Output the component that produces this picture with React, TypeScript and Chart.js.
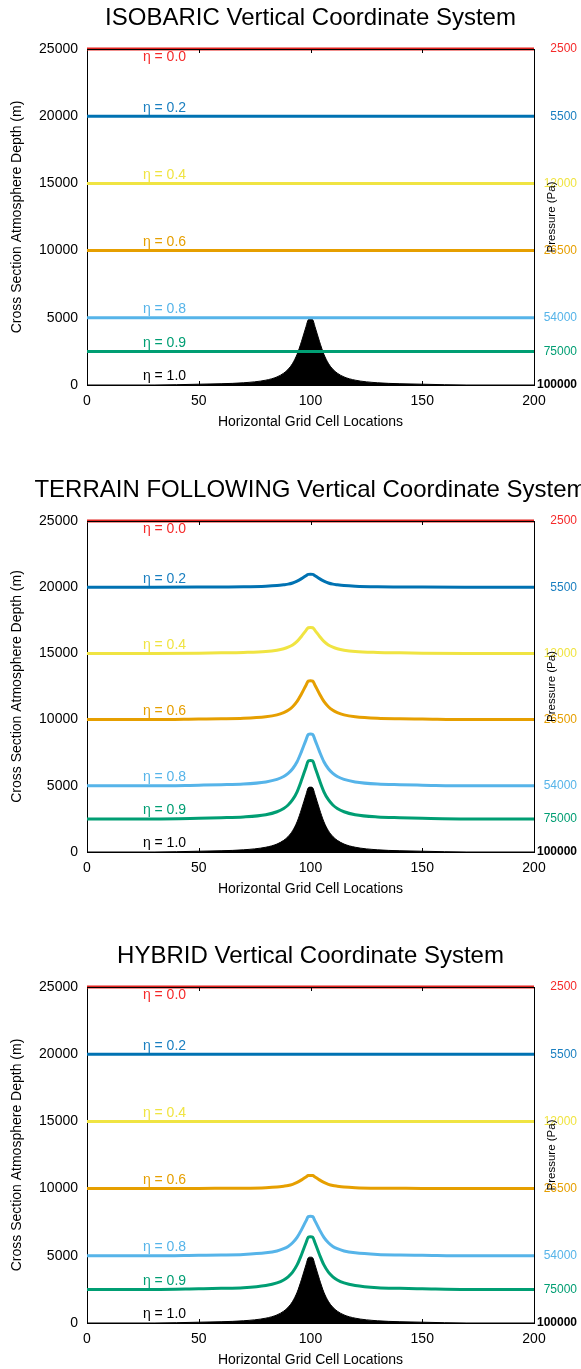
import React, { useEffect, useRef } from 'react';
import { Chart, registerables } from 'chart.js';

Chart.register(...registerables);

const FONT = "'Liberation Sans', Arial, Helvetica, sans-serif";
Chart.defaults.font.family = FONT;

// Horizontal grid cell positions used for the curved series
const X_CELLS = [0, 30, 50, 60, 70, 80, 85, 88, 90, 92, 94, 96, 98, 99, 100, 101, 102, 104, 106, 108, 110, 112, 115, 120, 130, 140, 150, 170, 200];
const FLAT_X = [0, 200];

// Terrain height (m), eta = 1.0 surface
const TERRAIN = [0, 0, 60, 95, 165, 360, 600, 880, 1170, 1610, 2280, 3250, 4340, 4850, 4900, 4850, 4340, 3250, 2280, 1610, 1170, 880, 600, 360, 165, 95, 60, 0, 0];

// Terrain-following levels
const TF_ETA_02 = [20000, 20000, 20010, 20020, 20030, 20070, 20120, 20180, 20230, 20320, 20460, 20650, 20870, 20970, 20980, 20970, 20870, 20650, 20460, 20320, 20230, 20180, 20120, 20070, 20030, 20020, 20010, 20000, 20000];
const TF_ETA_04 = [15000, 15000, 15020, 15040, 15070, 15140, 15240, 15350, 15470, 15640, 15910, 16300, 16740, 16940, 16960, 16940, 16740, 16300, 15910, 15640, 15470, 15350, 15240, 15140, 15070, 15040, 15020, 15000, 15000];
const TF_ETA_06 = [10000, 10000, 10040, 10060, 10100, 10220, 10360, 10530, 10700, 10970, 11370, 11950, 12600, 12910, 12940, 12910, 12600, 11950, 11370, 10970, 10700, 10530, 10360, 10220, 10100, 10060, 10040, 10000, 10000];
const TF_ETA_08 = [5000, 5000, 5050, 5080, 5130, 5290, 5480, 5700, 5940, 6290, 6820, 7600, 8470, 8880, 8920, 8880, 8470, 7600, 6820, 6290, 5940, 5700, 5480, 5290, 5130, 5080, 5050, 5000, 5000];
const TF_ETA_09 = [2500, 2500, 2550, 2590, 2650, 2820, 3040, 3290, 3550, 3950, 4550, 5430, 6410, 6870, 6910, 6870, 6410, 5430, 4550, 3950, 3550, 3290, 3040, 2820, 2650, 2590, 2550, 2500, 2500];

// Hybrid levels
const HY_ETA_06 = [10000, 10000, 10010, 10020, 10030, 10070, 10120, 10180, 10230, 10320, 10460, 10650, 10870, 10970, 10980, 10970, 10870, 10650, 10460, 10320, 10230, 10180, 10120, 10070, 10030, 10020, 10010, 10000, 10000];
const HY_ETA_08 = [5000, 5000, 5040, 5060, 5100, 5220, 5360, 5530, 5700, 5970, 6370, 6950, 7600, 7910, 7940, 7910, 7600, 6950, 6370, 5970, 5700, 5530, 5360, 5220, 5100, 5060, 5040, 5000, 5000];
const HY_ETA_09 = [2500, 2500, 2550, 2580, 2630, 2790, 2980, 3200, 3440, 3790, 4320, 5100, 5970, 6380, 6420, 6380, 5970, 5100, 4320, 3790, 3440, 3200, 2980, 2790, 2630, 2580, 2550, 2500, 2500];

// Level metadata (eta = 0.0, 0.2, 0.4, 0.6, 0.8, 0.9, 1.0)
const ETA_LABELS = ['η = 0.0', 'η = 0.2', 'η = 0.4', 'η = 0.6', 'η = 0.8', 'η = 0.9', 'η = 1.0'];
const LEVEL_HEIGHTS = [25000, 20000, 15000, 10000, 5000, 2500, 0];
const PRESSURE_LABELS = ['2500', '5500', '12000', '26500', '54000', '75000', '100000'];
const LINE_COLORS = ['#e2231f', '#0072b2', '#f0e442', '#e69f00', '#56b4e9', '#009e73', '#000000'];
const LABEL_COLORS = ['#f52a2a', '#1a7fc0', '#f0e442', '#e69f00', '#56b4e9', '#009e73', '#000000'];

const X_TICK_MARKS = [50, 100, 150];
const PANEL_TITLES = ['ISOBARIC Vertical Coordinate System', 'TERRAIN FOLLOWING Vertical Coordinate System', 'HYBRID Vertical Coordinate System'];

const flat = (v: number) => FLAT_X.map((x) => ({ x, y: v }));
const curve = (arr: number[]) => X_CELLS.map((x, i) => ({ x, y: arr[i] }));

const PANEL_SERIES: any[][] = [
  [flat(25000), flat(20000), flat(15000), flat(10000), flat(5000), flat(2500)],
  [flat(25000), curve(TF_ETA_02), curve(TF_ETA_04), curve(TF_ETA_06), curve(TF_ETA_08), curve(TF_ETA_09)],
  [flat(25000), flat(20000), flat(15000), curve(HY_ETA_06), curve(HY_ETA_08), curve(HY_ETA_09)],
];

const PLOT_TOP = 49;
const X_AXIS_H = 48;
const PANEL_LAYOUT = [
  { top: 0, plotH: 336 },
  { top: 472, plotH: 331 },
  { top: 938, plotH: 336 },
];

function makeDecorPlugin(title: string) {
  return {
    id: 'decor',
    afterDatasetsDraw(chart: any) {
      const { ctx, chartArea, scales } = chart;
      const xs = scales.x;
      const ys = scales.y;
      ctx.save();
      // frame top line
      ctx.strokeStyle = '#000';
      ctx.lineWidth = 1;
      ctx.beginPath();
      ctx.moveTo(chartArea.left, chartArea.top + 0.5);
      ctx.lineTo(chartArea.right, chartArea.top + 0.5);
      ctx.stroke();
      // inward tick marks on top and bottom
      X_TICK_MARKS.forEach((v) => {
        const px = Math.round(xs.getPixelForValue(v)) + 0.5;
        ctx.beginPath();
        ctx.moveTo(px, chartArea.top);
        ctx.lineTo(px, chartArea.top + 4);
        ctx.moveTo(px, chartArea.bottom);
        ctx.lineTo(px, chartArea.bottom - 4);
        ctx.stroke();
      });
      // eta labels
      ctx.font = `14px ${FONT}`;
      ctx.textAlign = 'left';
      ctx.textBaseline = 'middle';
      ETA_LABELS.forEach((lab, i) => {
        const px = xs.getPixelForValue(25);
        const py = ys.getPixelForValue(LEVEL_HEIGHTS[i]) + (i === 0 ? 8.5 : -8.5);
        ctx.fillStyle = LABEL_COLORS[i];
        ctx.fillText(lab, px, py);
      });
      ctx.restore();
    },
    afterDraw(chart: any) {
      const { ctx, chartArea } = chart;
      ctx.save();
      // panel title
      ctx.font = `24px ${FONT}`;
      ctx.fillStyle = '#000';
      ctx.textAlign = 'center';
      ctx.textBaseline = 'middle';
      ctx.fillText(title, (chartArea.left + chartArea.right) / 2, 18.5);
      // right axis title
      ctx.font = `11.5px ${FONT}`;
      ctx.translate(551.5, (chartArea.top + chartArea.bottom) / 2);
      ctx.rotate(-Math.PI / 2);
      ctx.fillText('Pressure (Pa)', 0, 0);
      ctx.restore();
    },
  };
}

function Panel({ index }: { index: number }) {
  const ref = useRef<HTMLCanvasElement | null>(null);
  const { top, plotH } = PANEL_LAYOUT[index];
  const height = PLOT_TOP + plotH + X_AXIS_H;

  useEffect(() => {
    if (!ref.current) return;
    const series = PANEL_SERIES[index];
    const datasets: any[] = series.map((data, i) => ({
      data,
      borderColor: LINE_COLORS[i],
      borderWidth: 3,
      pointRadius: 0,
      fill: false,
      clip: false,
      cubicInterpolationMode: 'monotone',
      borderJoinStyle: 'round',
    }));
    datasets.push({
      data: curve(TERRAIN),
      borderColor: '#000',
      backgroundColor: '#000',
      borderWidth: 1,
      pointRadius: 0,
      fill: 'origin',
      cubicInterpolationMode: 'monotone',
    });

    const chart = new Chart(ref.current, {
      type: 'line',
      data: { datasets },
      options: {
        animation: false,
        responsive: false,
        devicePixelRatio: 1,
        layout: { padding: { top: PLOT_TOP, left: 0, right: 4, bottom: 0 } },
        plugins: {
          legend: { display: false },
          tooltip: { enabled: false },
          title: { display: false },
        },
        scales: {
          x: {
            type: 'linear',
            position: 'bottom',
            min: 0,
            max: 200,
            ticks: {
              stepSize: 50, color: '#000', font: { size: 14, family: FONT }, padding: 8, maxRotation: 0, autoSkip: false,
              callback: (v: any) => String(v),
            },
            grid: { display: false, drawTicks: false },
            border: { display: true, color: '#000', width: 1 },
            title: {
              display: true,
              text: 'Horizontal Grid Cell Locations',
              color: '#000',
              font: { size: 14, family: FONT },
              padding: { top: 0, bottom: 2 },
            },
            afterFit: (s: any) => { s.height = X_AXIS_H; },
          },
          y: {
            type: 'linear',
            position: 'left',
            min: 0,
            max: 25000,
            ticks: {
              stepSize: 5000, color: '#000', font: { size: 14, family: FONT }, padding: 9, autoSkip: false,
              callback: (v: any) => String(v),
            },
            grid: { display: false, drawTicks: false },
            border: { display: true, color: '#000', width: 1 },
            title: {
              display: true,
              text: 'Cross Section Atmosphere Depth (m)',
              color: '#000',
              font: { size: 14, family: FONT },
              padding: { top: 9, bottom: 0 },
            },
            afterFit: (s: any) => { s.width = 87; },
          },
          y2: {
            type: 'linear',
            position: 'right',
            min: 0,
            max: 25000,
            afterBuildTicks: (s: any) => { s.ticks = LEVEL_HEIGHTS.map((v) => ({ value: v })); },
            ticks: {
              autoSkip: false,
              crossAlign: 'far',
              padding: 0,
              font: (c: any) => ({ size: 12, family: FONT, weight: c.index === 6 ? 'bold' : 'normal' }),
              color: (c: any) => LABEL_COLORS[c.index] || '#000',
              callback: (_v: any, i: number) => PRESSURE_LABELS[i],
            },
            grid: { display: false, drawTicks: false },
            border: { display: true, color: '#000', width: 1 },
            afterFit: (s: any) => { s.width = 43; },
          },
        },
      } as any,
      plugins: [makeDecorPlugin(PANEL_TITLES[index])],
    });
    return () => chart.destroy();
  }, [index]);

  return (
    <canvas
      ref={ref}
      width={581}
      height={height}
      style={{ position: 'absolute', left: 0, top, width: 581, height, display: 'block' }}
    />
  );
}

export default function App() {
  return (
    <div style={{ position: 'absolute', left: 0, top: 0, width: 581, height: 1369, overflow: 'hidden', background: '#fff' }}>
      <Panel index={0} />
      <Panel index={1} />
      <Panel index={2} />
    </div>
  );
}
